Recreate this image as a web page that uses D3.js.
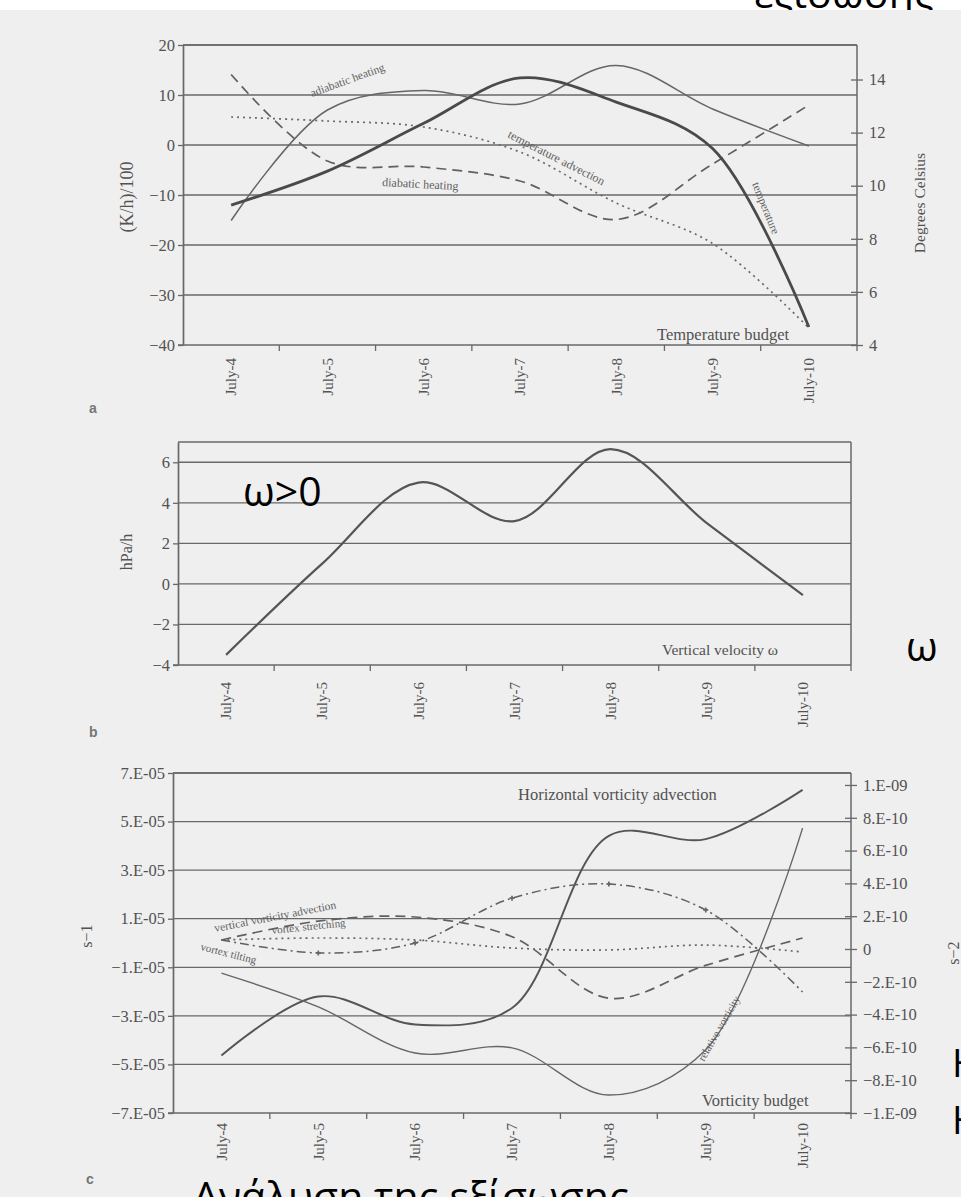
<!DOCTYPE html>
<html>
<head>
<meta charset="utf-8">
<script src="https://cdn.jsdelivr.net/npm/d3@7"></script>
<style>
  html, body { margin: 0; padding: 0; background: #fff; }
  svg { display: block; }
</style>
</head>
<body>
<svg id="chart"></svg>
<script>
const days = ['July-4', 'July-5', 'July-6', 'July-7', 'July-8', 'July-9', 'July-10'];

// panel a: temperature budget, (K/h)/100 left, degrees Celsius right
const adiabaticHeating = [-15.1, 7.0, 10.9, 8.2, 15.9, 7.2, -0.2];
const diabaticHeating = [14.1, -3.2, -4.4, -7.2, -14.9, -3.8, 8.0];
const temperatureAdvection = [5.6, 4.8, 3.6, -1.4, -11.6, -19.7, -36.6];
const temperature = [9.27, 10.55, 12.35, 14.06, 13.15, 11.4, 4.68];
const budgetTicks = [20, 10, 0, -10, -20, -30, -40];
const budgetLabels = ['20', '10', '0', '\u221210', '\u221220', '\u221230', '\u221240'];
const celsiusTicks = [14, 12, 10, 8, 6, 4];

// panel b: vertical velocity, hPa/h
const omega = [-3.5, 1.0, 5.0, 3.1, 6.65, 3.0, -0.55];
const omegaTicks = [6, 4, 2, 0, -2, -4];
const omegaLabels = ['6', '4', '2', '0', '\u22122', '\u22124'];

// panel c: vorticity budget, s-1 left (relative vorticity), s-2 right (tendencies)
const relativeVorticity = [-1.24e-5, -2.63e-5, -4.53e-5, -4.32e-5, -6.26e-5, -4.4e-5, 4.73e-5];
const horizontalVorticityAdvection = [-6.5e-10, -2.9e-10, -4.6e-10, -3.6e-10, 6.9e-10, 6.7e-10, 9.7e-10];
const verticalVorticityAdvection = [0.55e-10, 1.7e-10, 1.95e-10, 0.75e-10, -3.0e-10, -1.0e-10, 0.67e-10];
const vortexStretching = [0.55e-10, 0.67e-10, 0.55e-10, 0.06e-10, -0.06e-10, 0.24e-10, -0.18e-10];
const vortexTilting = [0.55e-10, -0.24e-10, 0.37e-10, 3.1e-10, 3.96e-10, 2.38e-10, -2.62e-10];
const vorticityTicks = [7e-5, 5e-5, 3e-5, 1e-5, -1e-5, -3e-5, -5e-5, -7e-5];
const vorticityLabels = ['7.E-05', '5.E-05', '3.E-05', '1.E-05', '\u22121.E-05', '\u22123.E-05', '\u22125.E-05', '\u22127.E-05'];
const tendencyTicks = [1e-9, 8e-10, 6e-10, 4e-10, 2e-10, 0, -2e-10, -4e-10, -6e-10, -8e-10, -1e-9];
const tendencyLabels = ['1.E-09', '8.E-10', '6.E-10', '4.E-10', '2.E-10', '0', '\u22122.E-10', '\u22124.E-10', '\u22126.E-10', '\u22128.E-10', '\u22121.E-09'];

const W = 961, H = 1197;
const ink = '#525252';
const rule = '#686868';
const serif = "'Liberation Serif', 'DejaVu Serif', serif";
const sans = "'Open Sans', 'Noto Sans', sans-serif";

const svg = d3.select('#chart').attr('width', W).attr('height', H);
svg.append('rect').attr('width', W).attr('height', H).attr('fill', '#fff');

// slide text that peeks out above the scanned page
svg.append('text')
  .attr('x', 754).attr('y', 8)
  .attr('font-family', sans).attr('font-size', 41).attr('fill', '#000')
  .text('εξίσωσης');
svg.append('rect').attr('y', 10).attr('width', W).attr('height', H - 10).attr('fill', '#efefef');

const mid = (x, d) => x(d) + x.bandwidth() / 2;

function drawFrame(x, y, tickVals, tickLabels, labelGap) {
  const [left, right] = x.range();
  const [bottom, top] = y.range();
  const g = svg.append('g');

  g.selectAll('line.rule')
    .data(tickVals.filter(v => y(v) < bottom - 1))
    .join('line')
    .attr('x1', left).attr('x2', right)
    .attr('y1', d => y(d)).attr('y2', d => y(d))
    .attr('stroke', rule).attr('stroke-width', 1.3);

  g.append('line')
    .attr('x1', left).attr('x2', right).attr('y1', top).attr('y2', top)
    .attr('stroke', rule).attr('stroke-width', 1.3);
  g.append('line')
    .attr('x1', right).attr('x2', right).attr('y1', top).attr('y2', bottom)
    .attr('stroke', rule).attr('stroke-width', 1.5);
  g.append('line')
    .attr('x1', left - 5).attr('x2', right).attr('y1', bottom).attr('y2', bottom)
    .attr('stroke', rule).attr('stroke-width', 1.7);

  const ax = g.append('g')
    .attr('transform', `translate(${left},0)`)
    .call(d3.axisLeft(y).tickValues(tickVals).tickSize(5).tickSizeOuter(0).tickPadding(3)
      .tickFormat((d, i) => tickLabels[i]));
  ax.select('.domain').attr('stroke', rule).attr('stroke-width', 1.7);
  ax.selectAll('.tick line').attr('stroke', rule).attr('stroke-width', 1.3);
  ax.selectAll('.tick text')
    .attr('font-family', serif).attr('font-size', 16.5).attr('fill', ink);

  // Excel-style ticks between categories
  g.selectAll('line.xtick')
    .data(days)
    .join('line')
    .attr('x1', d => x(d) + x.step()).attr('x2', d => x(d) + x.step())
    .attr('y1', bottom).attr('y2', bottom + 6)
    .attr('stroke', rule).attr('stroke-width', 1.3);

  g.selectAll('text.day')
    .data(days)
    .join('text')
    .attr('transform', d => `translate(${mid(x, d)},${bottom + labelGap}) rotate(-90)`)
    .attr('text-anchor', 'end')
    .attr('dy', '0.35em')
    .attr('font-family', serif).attr('font-size', 15).attr('fill', ink)
    .text(d => d);
  return g;
}

function drawRightAxis(x, y2, tickVals, fmt) {
  const right = x.range()[1];
  const ax = svg.append('g')
    .attr('transform', `translate(${right},0)`)
    .call(d3.axisRight(y2).tickValues(tickVals).tickSize(6).tickSizeOuter(0).tickPadding(6)
      .tickFormat(fmt));
  ax.select('.domain').remove();
  ax.selectAll('.tick line').attr('x1', -6).attr('x2', 6).attr('stroke', rule).attr('stroke-width', 1.3);
  ax.selectAll('.tick text').attr('font-family', serif).attr('font-size', 16.5).attr('fill', ink);
}

function drawSeries(x, y, values, style) {
  const line = d3.line()
    .x((d, i) => mid(x, days[i]))
    .y(d => y(d))
    .curve(d3.curveCatmullRom.alpha(0.5));
  return svg.append('path')
    .datum(values)
    .attr('d', line)
    .attr('fill', 'none')
    .attr('stroke', style.color || '#666')
    .attr('stroke-width', style.width || 1.3)
    .attr('stroke-dasharray', style.dash || null)
    .attr('stroke-linejoin', 'round');
}

function note(text, x, y, size, angle, color) {
  svg.append('text')
    .attr('transform', `translate(${x},${y}) rotate(${angle || 0})`)
    .attr('font-family', serif).attr('font-size', size).attr('fill', color || ink)
    .text(text);
}

function axisTitle(text, x, y, size) {
  svg.append('text')
    .attr('transform', `translate(${x},${y}) rotate(-90)`)
    .attr('text-anchor', 'middle')
    .attr('font-family', serif).attr('font-size', size).attr('fill', ink)
    .text(text);
}

function panelLetter(text, x, y) {
  svg.append('text')
    .attr('x', x).attr('y', y)
    .attr('font-family', "'Liberation Sans', Arial, sans-serif")
    .attr('font-size', 14).attr('font-weight', 'bold').attr('fill', '#777')
    .text(text);
}

// ---------- panel a ----------
const xa = d3.scaleBand().domain(days).range([183, 857]);
const ya = d3.scaleLinear().domain([-40, 20]).range([345, 45]);
const ya2 = d3.scaleLinear().domain([4, 15.3]).range([345, 45]);
drawFrame(xa, ya, budgetTicks, budgetLabels, 13);
drawRightAxis(xa, ya2, celsiusTicks, d => d);
drawSeries(xa, ya, adiabaticHeating, { color: '#666', width: 1.5 });
drawSeries(xa, ya, diabaticHeating, { color: '#606060', width: 1.7, dash: '10 6' });
drawSeries(xa, ya, temperatureAdvection, { color: '#6a6a6a', width: 1.7, dash: '2 4' });
drawSeries(xa, ya2, temperature, { color: '#4a4a4a', width: 2.8 });
note('adiabatic heating', 312, 97, 11.5, -20, '#5e5e5e');
note('diabatic heating', 382, 186, 12, 3, '#5e5e5e');
note('temperature advection', 507, 137, 12, 27, '#5e5e5e');
note('temperature', 752, 184, 11.5, 68, '#5e5e5e');
note('Temperature budget', 657, 340, 16.5, 0);
axisTitle('(K/h)/100', 133, 197, 18);
axisTitle('Degrees Celsius', 925, 203, 15.5);
panelLetter('a', 89, 413);

// ---------- panel b ----------
const xb = d3.scaleBand().domain(days).range([178, 851]);
const yb = d3.scaleLinear().domain([-4, 7]).range([665, 442]);
drawFrame(xb, yb, omegaTicks, omegaLabels, 17);
drawSeries(xb, yb, omega, { color: '#555', width: 2.2 });
note('Vertical velocity \u03c9', 662, 655, 15.5, 0);
axisTitle('hPa/h', 132, 552, 16);
panelLetter('b', 89, 737);

// ---------- panel c ----------
const xc = d3.scaleBand().domain(days).range([173, 851]);
const yc = d3.scaleLinear().domain([-7e-5, 7e-5]).range([1113, 773]);
const yc2 = d3.scaleLinear().domain([-1e-9, 1.073e-9]).range([1113, 773]);
drawFrame(xc, yc, vorticityTicks, vorticityLabels, 10);
drawRightAxis(xc, yc2, tendencyTicks, (d, i) => tendencyLabels[i]);
drawSeries(xc, yc2, horizontalVorticityAdvection, { color: '#555', width: 1.9 });
drawSeries(xc, yc, relativeVorticity, { color: '#666', width: 1.4 });
drawSeries(xc, yc2, verticalVorticityAdvection, { color: '#606060', width: 1.7, dash: '10 6' });
drawSeries(xc, yc2, vortexStretching, { color: '#6a6a6a', width: 1.7, dash: '2 4' });
drawSeries(xc, yc2, vortexTilting, { color: '#606060', width: 1.5, dash: '9 4 2 4' });
svg.append('g').selectAll('path')
  .data(vortexTilting.slice(1, 6).map((v, i) => ({ d: days[i + 1], v })))
  .join('path')
  .attr('transform', p => `translate(${mid(xc, p.d)},${yc2(p.v)})`)
  .attr('d', d3.symbol(d3.symbolCross, 14))
  .attr('fill', '#666');
note('Horizontal vorticity advection', 518, 800, 16.5, 0);
note('Vorticity budget', 702, 1106, 16.5, 0);
note('relative vorticity', 704, 1062, 11, -60, '#5e5e5e');
note('vertical vorticity advection', 215, 932, 11.5, -11, '#5e5e5e');
note('vortex stretching', 272, 934, 11, -6, '#5e5e5e');
note('vortex tilting', 200, 950, 11, 14, '#5e5e5e');
axisTitle('s\u22121', 92, 936, 16);
axisTitle('s\u22122', 959, 953, 16);
panelLetter('c', 86, 1184);

// ---------- slide text laid over the scan ----------
function slideText(text, x, y, size) {
  svg.append('text')
    .attr('x', x).attr('y', y)
    .attr('font-family', sans).attr('font-size', size).attr('fill', '#000')
    .text(text);
}
slideText('\u03c9>0', 243, 506, 41);
slideText('\u03c9', 906, 661, 41);
slideText('\u0397', 952, 1077, 38);
slideText('\u0397', 952, 1134, 38);
slideText('Ανάλυση της εξίσωσης', 193, 1211, 41);
</script>
</body>
</html>
